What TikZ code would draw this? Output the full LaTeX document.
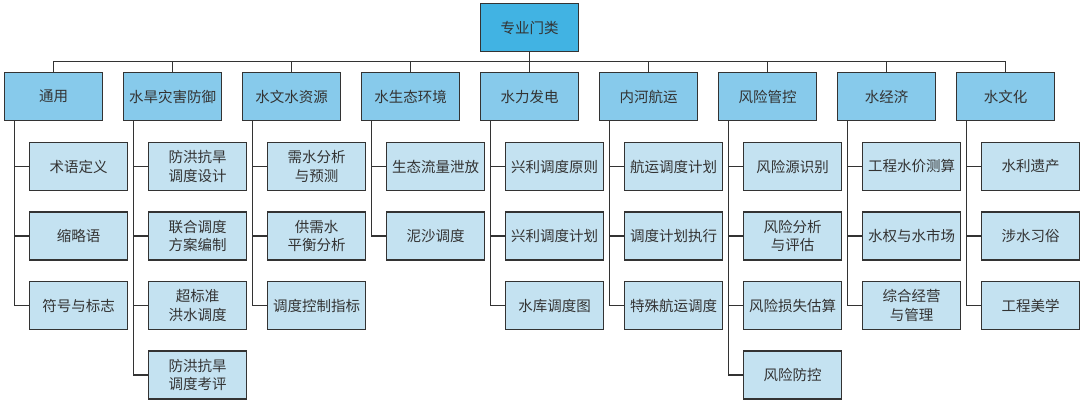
\documentclass[tikz,border=0pt]{standalone}
\usepackage{fontspec}
\setmainfont{Noto Sans CJK SC}
\usepackage{tikz}
\usetikzlibrary{positioning}
\definecolor{rootblue}{HTML}{41B3E3}
\definecolor{catblue}{HTML}{87CAEB}
\definecolor{leafblue}{HTML}{C4E2F1}
\definecolor{inkgray}{HTML}{333333}
\tikzset{box/.style={draw=inkgray,line width=1.4pt,align=center,minimum width=98pt,minimum height=48pt,
    inner sep=2pt,outer sep=0pt,text=inkgray,font=\fontsize{14.5}{18.5}\selectfont},
  rootbox/.style={box,fill=rootblue},
  catbox/.style={box,fill=catblue},
  leaf/.style={box,fill=leafblue},
  link/.style={draw=inkgray,line width=1.1pt}}
\begin{document}
\begin{tikzpicture}[x=1pt,y=1pt,node distance=21.5pt]
\useasboundingbox (0,0) rectangle (1080,-403);
\node[rootbox] (root) at (529.5,-27.5) {专业门类};
% categories
\node[catbox] (t1) at (53.5,-96.5) {通用};
\node[catbox,right=21pt of t1] (t2) {水旱灾害防御};
\node[catbox,right=21pt of t2] (t3) {水文水资源};
\node[catbox,right=21pt of t3] (t4) {水生态环境};
\node[catbox,right=21pt of t4] (t5) {水力发电};
\node[catbox,right=21pt of t5] (t6) {内河航运};
\node[catbox,right=21pt of t6] (t7) {风险管控};
\node[catbox,right=21pt of t7] (t8) {水经济};
\node[catbox,right=21pt of t8] (t9) {水文化};
% items
\node[leaf,below=22pt of t1,xshift=25pt] (t1-1) {术语定义};
\node[leaf,below=of t1-1] (t1-2) {缩略语};
\node[leaf,below=of t1-2] (t1-3) {符号与标志};
\node[leaf,below=22pt of t2,xshift=25pt] (t2-1) {防洪抗旱\\调度设计};
\node[leaf,below=of t2-1] (t2-2) {联合调度\\方案编制};
\node[leaf,below=of t2-2] (t2-3) {超标准\\洪水调度};
\node[leaf,below=of t2-3] (t2-4) {防洪抗旱\\调度考评};
\node[leaf,below=22pt of t3,xshift=25pt] (t3-1) {需水分析\\与预测};
\node[leaf,below=of t3-1] (t3-2) {供需水\\平衡分析};
\node[leaf,below=of t3-2] (t3-3) {调度控制指标};
\node[leaf,below=22pt of t4,xshift=25pt] (t4-1) {生态流量泄放};
\node[leaf,below=of t4-1] (t4-2) {泥沙调度};
\node[leaf,below=22pt of t5,xshift=25pt] (t5-1) {兴利调度原则};
\node[leaf,below=of t5-1] (t5-2) {兴利调度计划};
\node[leaf,below=of t5-2] (t5-3) {水库调度图};
\node[leaf,below=22pt of t6,xshift=25pt] (t6-1) {航运调度计划};
\node[leaf,below=of t6-1] (t6-2) {调度计划执行};
\node[leaf,below=of t6-2] (t6-3) {特殊航运调度};
\node[leaf,below=22pt of t7,xshift=25pt] (t7-1) {风险源识别};
\node[leaf,below=of t7-1] (t7-2) {风险分析\\与评估};
\node[leaf,below=of t7-2] (t7-3) {风险损失估算};
\node[leaf,below=of t7-3] (t7-4) {风险防控};
\node[leaf,below=22pt of t8,xshift=25pt] (t8-1) {工程水价测算};
\node[leaf,below=of t8-1] (t8-2) {水权与水市场};
\node[leaf,below=of t8-2] (t8-3) {综合经营\\与管理};
\node[leaf,below=22pt of t9,xshift=25pt] (t9-1) {水利遗产};
\node[leaf,below=of t9-1] (t9-2) {涉水习俗};
\node[leaf,below=of t9-2] (t9-3) {工程美学};
% connectors
\draw[link] (root.south) -- ++(0,-10pt) coordinate (bus);
\foreach \i in {1,...,9}
  \draw[link] (t\i.north) |- (bus);
\foreach \i/\n in {1/3,2/4,3/3,4/2,5/3,6/3,7/4,8/3,9/3}
  \foreach \j in {1,...,\n}
    \draw[link] ([xshift=10pt]t\i.south west) |- (t\i-\j.west);
\end{tikzpicture}
\end{document}
